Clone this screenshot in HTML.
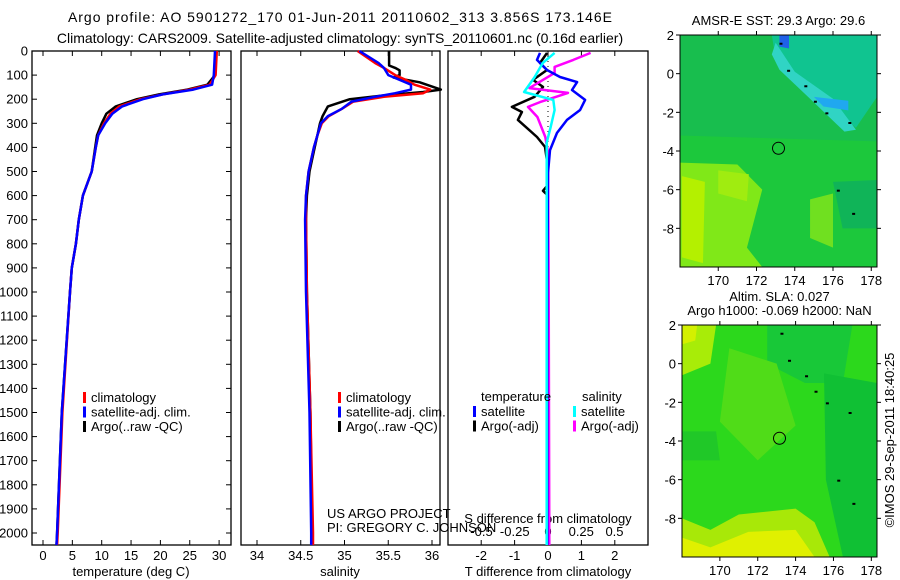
<!DOCTYPE html>
<html><head><meta charset="utf-8"><style>
body{margin:0;background:#fff}
svg{display:block;font-family:"Liberation Sans",sans-serif}
</style></head><body>
<svg id="c" width="900" height="580" viewBox="0 0 900 580" xmlns="http://www.w3.org/2000/svg">
<text x="68" y="22" font-size="14" textLength="544" lengthAdjust="spacing">Argo profile: AO 5901272_170 01-Jun-2011 20110602_313 3.856S 173.146E</text>
<text x="340" y="43" font-size="14" text-anchor="middle">Climatology: CARS2009. Satellite-adjusted climatology: synTS_20110601.nc (0.16d earlier)</text>
<g id="maps"></g>
<g id="p1"></g>
<g id="p2"></g>
<g id="p3"></g>
<text transform="translate(894,440) rotate(-90)" font-size="13" text-anchor="middle">©IMOS 29-Sep-2011 18:40:25</text>
</svg>
<script>
// depth grids
const depthClim = [0,100,140,160,180,200,230,260,300,350,400,500,600,700,800,900,1000,1500,2000,2050];
const tempSat   = [29.3,29.1,28.8,25.6,20.4,17.0,13.5,11.8,10.6,9.4,9.0,8.3,6.8,6.1,5.6,4.9,4.6,3.2,2.4,2.3];
const tempClim  = [29.6,29.4,28.4,25.0,20.4,16.6,13.0,11.5,10.4,9.4,9.0,8.3,6.8,6.1,5.6,4.9,4.6,3.3,2.5,2.4];
const tempArgo  = [29.5,29.3,28.0,24.6,19.8,16.0,12.4,10.8,10.0,9.2,8.9,8.3,6.8,6.1,5.6,4.9,4.6,3.2,2.4,2.3];
const depthSal  = [0,50,70,100,120,140,160,175,190,210,240,270,300,350,400,500,600,700,1000,1500,2000,2050];
const salSat    = [35.17,35.39,35.45,35.50,35.63,35.76,35.76,35.58,35.35,35.08,34.97,34.81,34.73,34.69,34.65,34.59,34.56,34.55,34.56,34.60,34.62,34.62];
const salClim   = [35.15,35.35,35.45,35.58,35.70,35.80,35.98,35.90,35.45,35.10,34.97,34.82,34.74,34.69,34.65,34.59,34.56,34.56,34.57,34.61,34.64,34.64];
const depthArgoS= [0,60,70,80,100,110,130,160,170,185,200,230,270,300,350,400,500,600,700,1000,1500,2000,2050];
const salArgo   = [35.51,35.51,35.58,35.63,35.63,35.56,35.86,36.10,35.90,35.43,35.06,34.81,34.75,34.72,34.69,34.66,34.60,34.57,34.56,34.57,34.61,34.63,34.63];
const depthDT   = [8,37,79,108,129,162,203,245,286,340,411,506,1000,2050];
const dTsat     = [-0.24,-0.33,-0.03,0.36,0.87,0.72,1.11,0.96,0.57,0.27,0.06,0,-0.02,-0.02];
const depthDTa  = [8,50,79,120,149,190,232,253,286,357,398,456,560,580,600,1000,2050];
const dTargo    = [-0.03,-0.24,-0.03,-0.45,-0.15,-0.4,-1.08,-0.78,-0.9,-0.33,-0.09,-0.03,-0.03,-0.15,0,0,0];
const depthDS   = [8,37,66,91,154,174,212,232,274,357,420,1000,2050];
const dSargo    = [0.32,0.19,0.05,0.05,-0.14,0.15,-0.06,-0.15,-0.08,-0.02,0,0.005,0.01];
const depthDSs  = [8,50,108,170,203,245,315,380,1000,2050];
const dSsat     = [0.05,-0.04,-0.10,-0.18,0.04,0.05,0.02,-0.01,-0.01,-0.01];
const depthTicks= [0,100,200,300,400,500,600,700,800,900,1000,1100,1200,1300,1400,1500,1600,1700,1800,1900,2000];
const tTicks = [0,5,10,15,20,25,30];
const sTicks = [34,34.5,35,35.5,36];
const dtTicks = [-2,-1,0,1,2];
const dsTicks = [-0.5,-0.25,0,0.25,0.5];
const lonTicks = [170,172,174,176,178];
const latTicks = [2,0,-2,-4,-6,-8];

const NS="http://www.w3.org/2000/svg";
function mk(tag,attrs,parent,txt){const e=document.createElementNS(NS,tag);for(const k in attrs)e.setAttribute(k,attrs[k]);if(txt!==undefined)e.textContent=txt;parent.appendChild(e);return e;}
const TOP=51,BOT=545;
const yD=d=>TOP+d*0.241;
const xT=t=>43+t*5.87;
const xS=s=>257+(s-34)*87.5;
const xdT=v=>548+v*33.4;
const xdS=v=>548+v*133;

function frame(g,x0,x1){const r=mk('rect',{x:x0,y:TOP,width:x1-x0,height:BOT-TOP,fill:'none',stroke:'#000','stroke-width':1.3},g);}
function xticks(g,ticks,fx,labels,ly){ticks.forEach((t,i)=>{const x=fx(t);mk('line',{x1:x,x2:x,y1:BOT,y2:BOT-5,stroke:'#000'},g);mk('line',{x1:x,x2:x,y1:TOP,y2:TOP+5,stroke:'#000'},g);
 if(labels){const tx=mk('text',{x:x,y:ly,'font-size':13,'text-anchor':'middle'},g,labels[i]);}});}
function line(g,xs,ds,fx,color,name,w){const pts=xs.map((v,i)=>fx(v).toFixed(1)+','+yD(ds[i]).toFixed(1)).join(' ');const p=mk('polyline',{points:pts,fill:'none',stroke:color,'stroke-width':w||2.5,'stroke-linejoin':'round'},g);}
function legend(g,x,y,items){items.forEach((it,i)=>{const yy=y+i*14.5;mk('rect',{x:x,y:yy-9,width:3,height:11,fill:it[1]},g);const t=mk('text',{x:x+8,y:yy+1,'font-size':13},g,it[0]);});}

// Panel 1
const p1=document.getElementById('p1');
frame(p1,32,231);
xticks(p1,tTicks,xT,tTicks.map(String),560);
depthTicks.forEach(d=>{const y=yD(d);mk('line',{x1:32,x2:37,y1:y,y2:y,stroke:'#000'},p1);mk('line',{x1:231,x2:226,y1:y,y2:y,stroke:'#000'},p1);
 const t=mk('text',{x:28,y:y+4.5,'font-size':13,'text-anchor':'end'},p1,String(d));});
line(p1,tempArgo,depthClim,xT,'#000','argo-temperature-line');
line(p1,tempClim,depthClim,xT,'#f00','climatology-temperature-line');
line(p1,tempSat,depthClim,xT,'#00f','satellite-temperature-line');
legend(p1,83,401,[['climatology','#f00'],['satellite-adj. clim.','#00f'],['Argo(..raw -QC)','#000']]);
{const t=mk('text',{x:131,y:576,'font-size':13,'text-anchor':'middle'},p1,'temperature (deg C)');}

// Panel 2
const p2=document.getElementById('p2');
frame(p2,241,440);
xticks(p2,sTicks,xS,['34','34.5','35','35.5','36'],560);
line(p2,salArgo,depthArgoS,xS,'#000','argo-salinity-line');
line(p2,salClim,depthSal,xS,'#f00','climatology-salinity-line');
line(p2,salSat,depthSal,xS,'#00f','satellite-salinity-line');
legend(p2,338,401,[['climatology','#f00'],['satellite-adj. clim.','#00f'],['Argo(..raw -QC)','#000']]);
{const t=mk('text',{x:340,y:576,'font-size':13,'text-anchor':'middle'},p2,'salinity');}
{const t=mk('text',{x:327,y:518,'font-size':13},p2,'US ARGO PROJECT');}
{const t=mk('text',{x:327,y:532,'font-size':13},p2,'PI: GREGORY C. JOHNSON');}

// Panel 3
const p3=document.getElementById('p3');
frame(p3,448,648);
xticks(p3,dtTicks,xdT,dtTicks.map(String),560);
mk('line',{x1:548,x2:548,y1:TOP,y2:yD(420),stroke:'#000','stroke-dasharray':'1,4'},p3);
dsTicks.forEach((v,i)=>{const t=mk('text',{x:xdS(v),y:536,'font-size':13,'text-anchor':'middle'},p3,['-0.5','-0.25','0','0.25','0.5'][i]);});
{const t=mk('text',{x:548,y:523,'font-size':13,'text-anchor':'middle'},p3,'S difference from climatology');}
line(p3,dTargo,depthDTa,xdT,'#000','argo-temp-diff-line');
line(p3,dSargo,depthDS,xdS,'#f0f','argo-sal-diff-line');
line(p3,dTsat,depthDT,xdT,'#00f','satellite-temp-diff-line');
line(p3,dSsat,depthDSs,xdS,'#0ff','satellite-sal-diff-line');
{const t=mk('text',{x:481,y:401,'font-size':13},p3,'temperature');}
{const t=mk('text',{x:582,y:401,'font-size':13},p3,'salinity');}
legend(p3,473,415,[['satellite','#00f'],['Argo(-adj)','#000']]);
legend(p3,573,415,[['satellite','#0ff'],['Argo(-adj)','#f0f']]);
{const t=mk('text',{x:548,y:576,'font-size':13,'text-anchor':'middle'},p3,'T difference from climatology');}

// Maps
const maps=document.getElementById('maps');
function map(x0,y0,x1,y1,base,patches,name,titles){
 const g=mk('g',{},maps);
 const lx=lon=>x0+(lon-168)*(x1-x0)/10.3, ly=lat=>y0+(2-lat)*(y1-y0)/12;
 mk('rect',{x:x0,y:y0,width:x1-x0,height:y1-y0,fill:base},g);
 patches.forEach(p=>mk('polygon',{points:p[1].map(q=>lx(q[0])+','+ly(q[1])).join(' '),fill:p[0]},g));
 mk('circle',{cx:lx(173.15),cy:ly(-3.86),r:6,fill:'none',stroke:'#000','stroke-width':1},g);
 [[173.2,1.6],[173.6,0.2],[174.5,-0.6],[175,-1.4],[175.6,-2],[176.8,-2.5],[176.2,-6],[177,-7.2]].forEach(q=>mk('rect',{x:lx(q[0]),y:ly(q[1]),width:3,height:2,fill:'#000'},g));
 mk('rect',{x:x0,y:y0,width:x1-x0,height:y1-y0,fill:'none',stroke:'#000'},g);
 lonTicks.forEach(l=>{const x=lx(l);mk('line',{x1:x,x2:x,y1:y1,y2:y1+4,stroke:'#000'},g);mk('line',{x1:x,x2:x,y1:y0,y2:y0-4,stroke:'#000'},g);mk('text',{x:x,y:y1+18,'font-size':13,'text-anchor':'middle'},g,String(l));});
 latTicks.forEach(l=>{const y=ly(l);mk('line',{x1:x0,x2:x0-4,y1:y,y2:y,stroke:'#000'},g);mk('line',{x1:x1,x2:x1+4,y1:y,y2:y,stroke:'#000'},g);mk('text',{x:x0-6,y:y+5,'font-size':13,'text-anchor':'end'},g,String(l));});
 titles.forEach((t,i)=>mk('text',{x:(x0+x1)/2,y:y0-24+i*14+(titles.length==1?14:0),'font-size':13,'text-anchor':'middle'},g,t));
}
map(680,35,877,267,'#1cc83c',[
 ['#18be4e',[[168,2],[178.3,2],[178.3,-3.5],[168,-3.2]]],
 ['#10c490',[[172.8,2],[178.3,2],[178.3,-1.2],[177.2,-2.8],[175,-1],[173,0.8]]],
 ['#30d4c4',[[173,1.6],[174,0.1],[176,-1.3],[177.2,-2.9],[176.6,-3],[174.8,-1.3],[173.2,0.2],[172.8,1]]],
 ['#2060e8',[[173.2,2],[173.7,2],[173.7,1.3],[173.2,1.4]]],
 ['#20a8f0',[[175,-1.2],[176.8,-1.4],[176.8,-1.9],[175.5,-1.7]]],
 ['#80e818',[[168,-4.6],[171,-4.7],[172.3,-6],[171.5,-9],[172.3,-10],[168,-10]]],
 ['#b4f000',[[168.1,-5.3],[169.3,-5.6],[169.2,-9.8],[168.1,-9.5]]],
 ['#a0ec10',[[170,-5],[171.6,-5.2],[171.5,-6.6],[170,-6.2]]],
 ['#70e020',[[174.8,-6.5],[176,-6.2],[176,-9],[174.8,-8.5]]],
 ['#10b458',[[176,-5.6],[178.3,-5.5],[178.3,-8],[176.5,-8]]]
],'sst-map',['AMSR-E SST: 29.3 Argo: 29.6']);
map(682,325,877,557,'#2cd81c',[
 ['#a8ec08',[[168,2],[169.8,2],[169.5,0],[168,-0.6]]],
 ['#d4f000',[[168,2],[168.8,2],[168.7,1.2],[168,1]]],
 ['#18c838',[[172.5,2],[177,2],[176.5,-1],[174.5,-1],[172.5,0]]],
 ['#10c034',[[175.5,-0.5],[178.3,-1],[178.3,-10],[176.5,-10],[175.6,-6]]],
 ['#50dc18',[[170.5,0.8],[173,0],[174,-3.2],[172,-5],[170,-3]]],
 ['#20c828',[[168,-3.5],[169.8,-3.5],[170,-5],[168,-5]]],
 ['#a8e808',[[168,-8],[169.5,-8.6],[171,-7.8],[174,-7.5],[175,-8.2],[175.8,-10],[168,-10]]],
 ['#e0f000',[[168,-9],[169.5,-9.5],[171.5,-8.7],[174,-8.6],[175,-10],[168,-10]]]
],'sla-map',['Altim. SLA: 0.027','Argo h1000: -0.069 h2000: NaN']);
</script>
</body></html>
